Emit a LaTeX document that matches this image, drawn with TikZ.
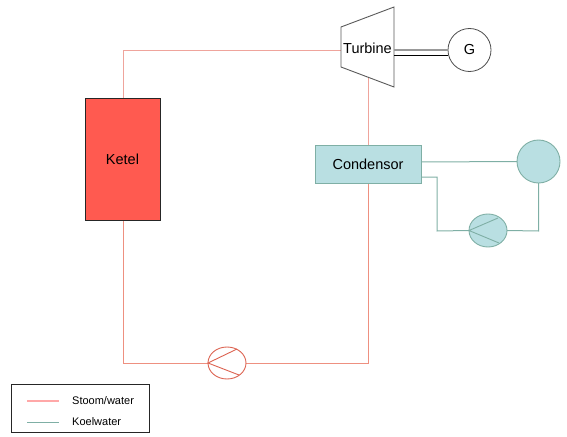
\documentclass[tikz,border=0pt]{standalone}
\usepackage{fontspec}
\setmainfont{Liberation Sans}
\usetikzlibrary{shapes.geometric}
\definecolor{steam}{HTML}{EFA49C}
\definecolor{steamwarm}{HTML}{EE9080}
\definecolor{steamdark}{HTML}{DC6250}
\definecolor{legendpink}{HTML}{FFA8A8}
\definecolor{ketelfill}{HTML}{FF5A50}
\definecolor{coolfill}{HTML}{B9DFE2}
\definecolor{coolline}{HTML}{7FAFA5}
\tikzset{
  steamline/.style={draw=steam,line width=0.95pt},
  coolpipe/.style={draw=coolline,line width=1pt},
  boxnode/.style={rectangle,inner sep=0pt,outer sep=0pt},
  roundnode/.style={ellipse,inner sep=0pt,outer sep=0pt,minimum width=38pt,minimum height=32pt},
  bigtext/.style={font=\fontsize{14.5}{16}\selectfont,text=black},
  legendtext/.style={font=\fontsize{11}{13}\selectfont,text=black,anchor=west,inner sep=0pt},
}
\begin{document}
\begin{tikzpicture}[x=1pt,y=-1pt]
\useasboundingbox (0,0) rectangle (567,436);
% coordinates
\coordinate (t1) at (341,27);
\coordinate (t2) at (394,7);
\coordinate (t3) at (394,87);
\coordinate (t4) at (341,67);
\coordinate (tin) at (341,50);
\coordinate (tout) at (368,77);
\coordinate (shaftA) at (394,50);
\coordinate (shaftB) at (394,55);
\coordinate (genA) at (448,50);
\coordinate (genB) at (448,55);
\coordinate (cornerA) at (123,50);
\coordinate (cornerB) at (123,363);
\coordinate (cornerC) at (368,363);
\coordinate (ketelTop) at (123,98);
\coordinate (ketelBot) at (123,220);
\coordinate (condTop) at (368,145);
\coordinate (condBot) at (368,183);
\coordinate (condOutA) at (421,162);
\coordinate (condOutB) at (421,177);
\coordinate (coolA) at (437,177);
\coordinate (coolB) at (437,231);
\coordinate (coolC) at (538.5,231);
% pipes
\draw[steamline] (ketelTop) -- (cornerA) -- (tin);
\draw[steamline] (tout) -- (condTop);
\draw[steamline,draw=steamwarm] (ketelBot) -- (cornerB) -- (208,363);
\draw[steamline,draw=steamwarm] (condBot) -- (cornerC) -- (246,363);
% ketel
\node[boxnode,draw=black!85,line width=0.9pt,fill=ketelfill,minimum width=75pt,minimum height=122pt,bigtext] (ketel) at (122.5,159) {Ketel};
% condensor
\node[boxnode,draw=coolline,line width=0.9pt,fill=coolfill,minimum width=106pt,minimum height=38pt,bigtext] (cond) at (368,164) {Condensor};
% turbine
\draw[draw=black!65,line width=0.9pt] (t1) -- (t2) -- (t3) -- (t4) -- cycle;
\node[bigtext,inner sep=0pt] (turbine) at (367.5,48.5) {Turbine};
% generator
\node[circle,draw=black!70,line width=0.8pt,minimum size=43pt,inner sep=0pt,outer sep=0pt,bigtext] (gen) at (469.5,50) {G};
\draw[draw=black!40,line width=1.1pt] (shaftA) -- (genA);
\draw[draw=black,line width=0.8pt] (shaftB) -- (genB);
% steam pump
\node[roundnode,draw=steamdark,line width=0.9pt] (pump) at (227,363) {};
\draw[draw=steamdark,line width=0.9pt] (237,349) -- (pump.west) -- (239,375);
% cooling
\node[circle,draw=coolline,fill=coolfill,line width=0.9pt,minimum size=43pt,inner sep=0pt,outer sep=0pt] (cool) at (538.5,161.5) {};
\node[roundnode,draw=coolline,fill=coolfill,line width=0.9pt,minimum height=33pt] (cpump) at (488,230.5) {};
\draw[draw=coolline,line width=0.9pt] (498,218) -- (cpump.west) -- (499,243);
\draw[coolpipe] (condOutA) -- (cool.west);
\draw[coolpipe] (condOutB) -- (coolA) -- (coolB) -- (cpump.west);
\draw[coolpipe] (cpump.east) -- (coolC) -- (cool.south);
% legend
\node[boxnode,draw=black!85,line width=0.9pt,minimum width=138pt,minimum height=48pt] (legend) at (80,408) {};
\coordinate (la) at (27,401);
\coordinate (lb) at (59,401);
\coordinate (lc) at (27,422);
\coordinate (ld) at (59,422);
\draw[draw=legendpink,line width=1.1pt] (la) -- (lb);
\draw[draw=coolline,line width=1pt] (lc) -- (ld);
\node[legendtext] (l1) at (72,401) {Stoom/water};
\node[legendtext] (l2) at (72,422) {Koelwater};
\end{tikzpicture}
\end{document}
